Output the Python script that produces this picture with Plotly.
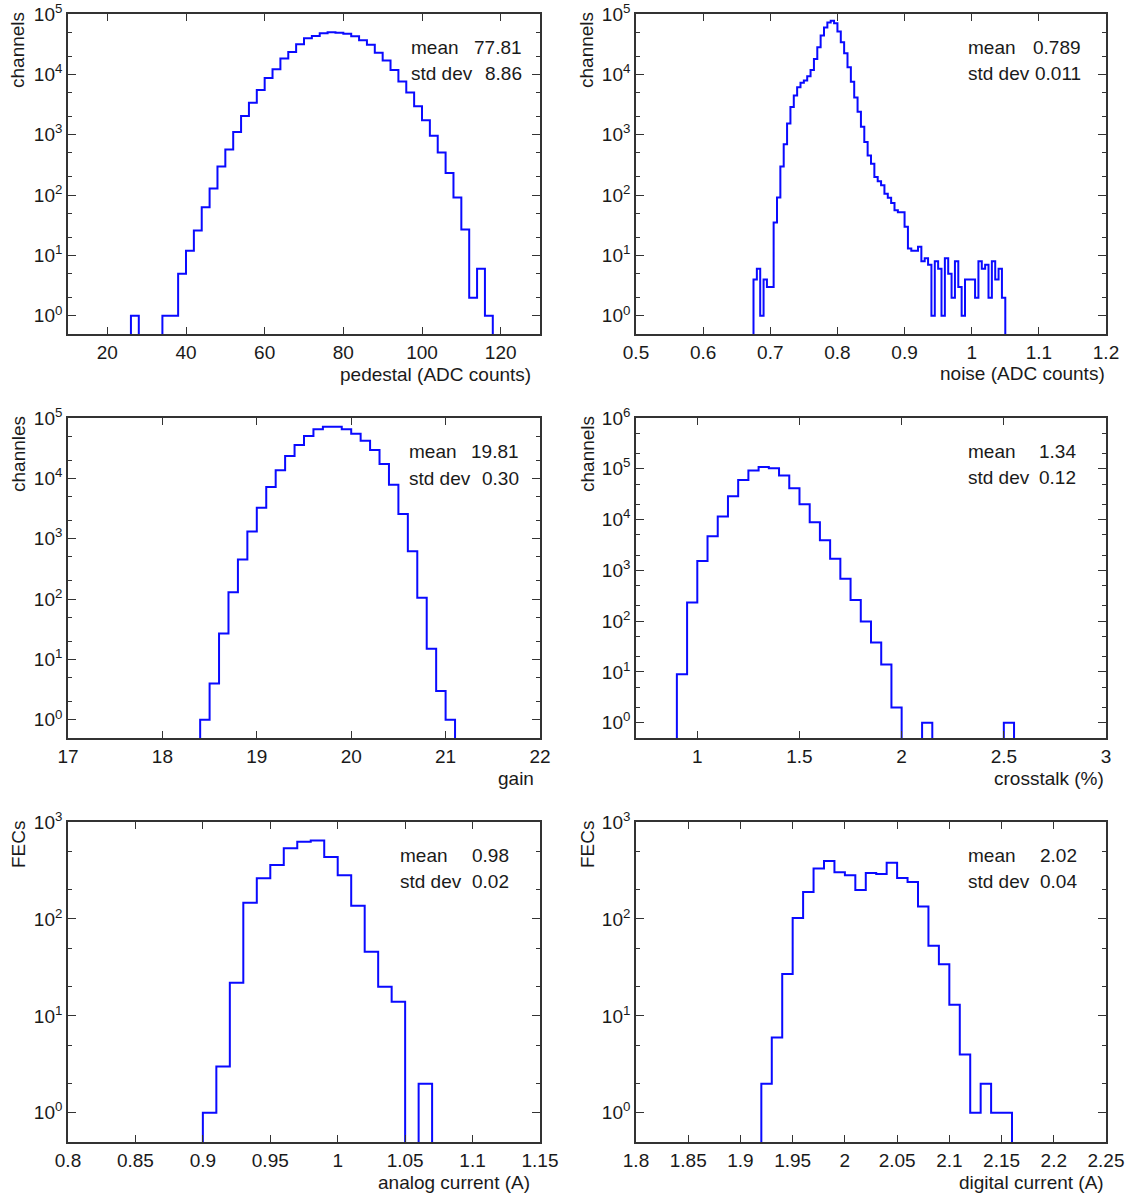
import math
import plotly.graph_objects as go

W, H = 1132, 1196

# ---- data (bin start, bin width, counts per bin) ----
pedestal_lo, pedestal_w = 26, 2
pedestal_counts = [1, 0, 0, 0, 1, 1, 5, 12, 26, 63, 129, 299, 571, 1107, 2040, 3390, 5500,
                   8700, 12200, 18400, 23500, 31400, 39500, 43200, 47800, 49700, 49000, 47200,
                   42700, 36600, 31000, 22900, 16900, 11800, 7650, 5020, 2950, 1730, 960, 510,
                   232, 91, 27, 2, 6, 1]

noise_lo, noise_w = 0.675, 0.005
noise_counts = [4, 6, 1, 4, 3, 3, 35, 91, 299, 693, 1535, 2870, 4480, 6090, 7260, 7950, 9270,
                11800, 18000, 28100, 44000, 59700, 72300, 77100, 70600, 51300, 34100, 22400,
                13100, 7550, 4150, 2400, 1350, 760, 455, 331, 199, 170, 145, 105, 90, 74, 56,
                52, 52, 30, 13, 12, 12, 14, 8, 9, 7, 1, 8, 6, 1, 9, 5, 2, 8, 3, 1, 4, 4, 4, 2,
                8, 6, 7, 2, 8, 4, 6, 2]

gain_lo, gain_w = 18.4, 0.1
gain_counts = [1, 4, 27, 130, 453, 1320, 3260, 7180, 13600, 23400, 35700, 50300, 64800, 71900,
               71900, 64800, 54800, 42000, 29400, 17300, 7850, 2570, 620, 105, 15, 3, 1]

crosstalk_lo, crosstalk_w = 0.9, 0.05
crosstalk_counts = [9, 234, 1530, 4700, 11500, 28800, 60000, 92700, 109000, 103000, 74000,
                    41500, 20000, 8900, 3900, 1700, 685, 260, 98, 38, 14, 2, 0, 0, 1, 0, 0, 0,
                    0, 0, 0, 0, 1]

analog_lo, analog_w = 0.9, 0.01
analog_counts = [1, 3, 22, 147, 263, 361, 537, 626, 646, 435, 283, 137, 46, 20, 14, 0, 2]

digital_lo, digital_w = 1.92, 0.01
digital_counts = [2, 6, 27, 102, 190, 332, 395, 304, 283, 199, 297, 290, 380, 264, 240, 134,
                  53, 34, 13, 4, 1, 2, 1, 1]

# tick labels
pedestal_ticks = ["20", "40", "60", "80", "100", "120"]
noise_ticks = ["0.5", "0.6", "0.7", "0.8", "0.9", "1", "1.1", "1.2"]
gain_ticks = ["17", "18", "19", "20", "21", "22"]
crosstalk_ticks = ["1", "1.5", "2", "2.5", "3"]
analog_ticks = ["0.8", "0.85", "0.9", "0.95", "1", "1.05", "1.1", "1.15"]
digital_ticks = ["1.8", "1.85", "1.9", "1.95", "2", "2.05", "2.1", "2.15", "2.2", "2.25"]

# statistics boxes
stats_mean = ["77.81", "0.789", "19.81", "1.34", "0.98", "2.02"]
stats_std = ["8.86", "0.011", "0.30", "0.12", "0.02", "0.04"]

x_titles = ["pedestal (ADC counts)", "noise (ADC counts)", "gain", "crosstalk (%)",
            "analog current (A)", "digital current (A)"]
y_titles = ["channels", "channels", "channles", "channels", "FECs", "FECs"]

# ---- layout geometry (pixels in the page) ----
panels = [
    dict(lo=pedestal_lo, w=pedestal_w, c=pedestal_counts, ticks=pedestal_ticks, xr=[10, 130], ymax=5,
         box=(68, 540, 14, 334), stat=(409, 524, 47), xt=(533, 374)),
    dict(lo=noise_lo, w=noise_w, c=noise_counts, ticks=noise_ticks, xr=[0.5, 1.2], ymax=5,
         box=(636, 1106, 14, 334), stat=(966, 1083, 48), xt=(1107, 373)),
    dict(lo=gain_lo, w=gain_w, c=gain_counts, ticks=gain_ticks, xr=[17, 22], ymax=5,
         box=(68, 540, 418, 738), stat=(407, 521, 452), xt=(536, 778)),
    dict(lo=crosstalk_lo, w=crosstalk_w, c=crosstalk_counts, ticks=crosstalk_ticks, xr=[0.7, 3], ymax=6,
         box=(636, 1106, 418, 738), stat=(966, 1078, 451), xt=(1106, 778)),
    dict(lo=analog_lo, w=analog_w, c=analog_counts, ticks=analog_ticks, xr=[0.8, 1.15], ymax=3,
         box=(68, 540, 822, 1142), stat=(398, 511, 855), xt=(532, 1182)),
    dict(lo=digital_lo, w=digital_w, c=digital_counts, ticks=digital_ticks, xr=[1.8, 2.25], ymax=3,
         box=(636, 1106, 822, 1142), stat=(966, 1079, 855), xt=(1106, 1182)),
]

FONT = "Liberation Sans, Arial, sans-serif"
TXT = "#1a1a1a"
FS = 19
FLOOR = 1e-2


def px(x):
    return x / W


def py(y):
    return 1 - y / H


def step_xy(lo, w, counts):
    n = len(counts)
    edges = [lo + i * w for i in range(n + 1)]
    ys = [c if c > 0 else FLOOR for c in counts]
    return [edges[0]] + edges[:-1] + [edges[-1]], [FLOOR] + ys + [FLOOR]


fig = go.Figure()
annotations = []
layout = {}

for i, p in enumerate(panels):
    k = "" if i == 0 else str(i + 1)
    x0, x1, y0, y1 = p["box"]
    xs, ys = step_xy(p["lo"], p["w"], p["c"])
    fig.add_trace(go.Scatter(x=xs, y=ys, mode="lines", line_shape="hv",
                             line=dict(color="#0a0aff", width=2),
                             xaxis="x" + k, yaxis="y" + k, showlegend=False))
    tickvals = [float(t) for t in p["ticks"]]
    layout["xaxis" + k] = dict(
        domain=[px(x0), px(x1)], anchor="y" + k, range=p["xr"], automargin=False,
        tickvals=tickvals, ticktext=p["ticks"], ticks="inside", ticklen=7,
        tickwidth=1.2, tickcolor="#333", showline=True, linecolor="#333", linewidth=1.6,
        mirror="allticks", showgrid=False, zeroline=False, ticklabeloverflow="allow",
        tickfont=dict(family=FONT, size=FS, color=TXT),
    )
    decades = list(range(0, p["ymax"] + 1))
    minor_vals = [m * 10 ** d for d in range(0, p["ymax"]) for m in (2, 5)]
    layout["yaxis" + k] = dict(
        domain=[py(y1), py(y0)], anchor="x" + k, type="log", automargin=False,
        range=[math.log10(0.5), p["ymax"]],
        tickvals=[10 ** d for d in decades],
        ticktext=["10<sup>%d</sup>" % d for d in decades],
        ticks="inside", ticklen=8, tickwidth=1.2, tickcolor="#333",
        minor=dict(tickvals=minor_vals, ticks="inside", ticklen=4, tickwidth=1, tickcolor="#333"),
        showline=True, linecolor="#333", linewidth=1.6, mirror="allticks",
        showgrid=False, zeroline=False, ticklabeloverflow="allow",
        tickfont=dict(family=FONT, size=FS, color=TXT),
    )
    sx0, sx1, sy = p["stat"]
    for j, (lab, val) in enumerate([("mean", stats_mean[i]), ("std dev", stats_std[i])]):
        yy = sy + j * 26
        annotations.append(dict(x=px(sx0), y=py(yy), xref="paper", yref="paper", text=lab,
                                showarrow=False, xanchor="left", yanchor="middle",
                                font=dict(family=FONT, size=FS, color=TXT)))
        annotations.append(dict(x=px(sx1), y=py(yy), xref="paper", yref="paper", text=val,
                                showarrow=False, xanchor="right", yanchor="middle",
                                font=dict(family=FONT, size=FS, color=TXT)))
    tx, ty = p["xt"]
    annotations.append(dict(x=px(tx), y=py(ty), xref="paper", yref="paper", text=x_titles[i],
                            showarrow=False, xanchor="right", yanchor="middle",
                            font=dict(family=FONT, size=FS, color=TXT)))
    ylx = 18 if x0 < 300 else 587
    annotations.append(dict(x=px(ylx), y=py(y0 - 4), xref="paper", yref="paper", text=y_titles[i],
                            showarrow=False, textangle=-90, xanchor="center", yanchor="top",
                            font=dict(family=FONT, size=FS, color=TXT)))

fig.update_layout(
    width=W, height=H, margin=dict(l=0, r=0, t=0, b=0),
    plot_bgcolor="white", paper_bgcolor="white",
    annotations=annotations, **layout,
)

# drop the default 8px page margin so the figure fills the window exactly
fig.write_html("out.html", config={"displayModeBar": False},
               post_script="document.body.style.margin='0px';")
